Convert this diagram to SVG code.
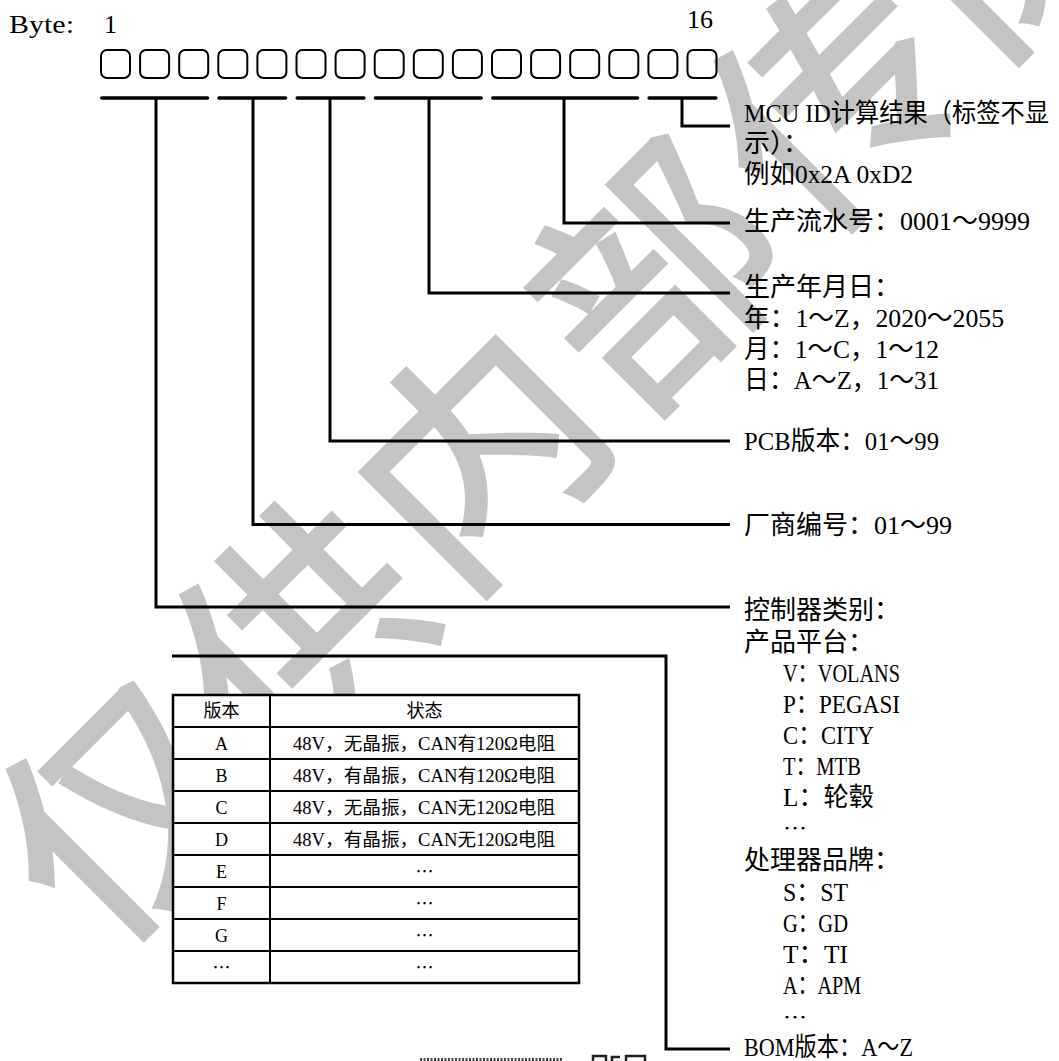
<svg xmlns="http://www.w3.org/2000/svg" width="1059" height="1061" viewBox="0 0 1059 1061">
<style>
.t{font-family:"Liberation Serif","Noto Sans CJK SC",serif;font-size:26px;fill:#000}
.tt{font-family:"Liberation Serif","Noto Sans CJK SC",serif;font-size:18px;fill:#000}
.cjk{font-family:"Noto Sans CJK SC",sans-serif}
.dots{font-family:"Noto Sans CJK SC",sans-serif;font-size:18px;fill:#000}
.box{fill:none;stroke:#000;stroke-width:2}
.seg{stroke:#000;stroke-width:3.5;stroke-linecap:round}
.conn{fill:none;stroke:#000;stroke-width:3;stroke-linejoin:miter}
.grid{stroke:#000;stroke-width:2}
.wm{font-family:"Noto Sans CJK SC",sans-serif;font-weight:500;fill:#c4c4c4}
</style>
<rect width="1059" height="1061" fill="#fff"/>
<g id="watermark">
<text class="wm" font-size="240" letter-spacing="12" text-anchor="middle" transform="translate(570 360) rotate(-45)" x="0" y="91">仅供内部传阅</text>
</g>
<g id="header">
<text class="t" x="9" y="33" textLength="65" lengthAdjust="spacingAndGlyphs">Byte:</text>
<text class="t" x="104" y="33">1</text>
<text class="t" x="687" y="28">16</text>
</g>
<g id="bytes">
<rect class="box" x="101" y="50" width="29" height="28" rx="6"/>
<rect class="box" x="140.1" y="50" width="29" height="28" rx="6"/>
<rect class="box" x="179.2" y="50" width="29" height="28" rx="6"/>
<rect class="box" x="218.3" y="50" width="29" height="28" rx="6"/>
<rect class="box" x="257.4" y="50" width="29" height="28" rx="6"/>
<rect class="box" x="296.5" y="50" width="29" height="28" rx="6"/>
<rect class="box" x="335.6" y="50" width="29" height="28" rx="6"/>
<rect class="box" x="374.7" y="50" width="29" height="28" rx="6"/>
<rect class="box" x="413.8" y="50" width="29" height="28" rx="6"/>
<rect class="box" x="452.9" y="50" width="29" height="28" rx="6"/>
<rect class="box" x="492" y="50" width="29" height="28" rx="6"/>
<rect class="box" x="531.1" y="50" width="29" height="28" rx="6"/>
<rect class="box" x="570.2" y="50" width="29" height="28" rx="6"/>
<rect class="box" x="609.3" y="50" width="29" height="28" rx="6"/>
<rect class="box" x="648.4" y="50" width="29" height="28" rx="6"/>
<rect class="box" x="687.5" y="50" width="29" height="28" rx="6"/>
</g>
<g id="connectors">
<line class="seg" x1="101.75" y1="98" x2="207.5" y2="98"/>
<line class="seg" x1="219" y1="98" x2="285.6" y2="98"/>
<line class="seg" x1="297.2" y1="98" x2="363.9" y2="98"/>
<line class="seg" x1="375.4" y1="98" x2="481.2" y2="98"/>
<line class="seg" x1="492.7" y1="98" x2="637.6" y2="98"/>
<line class="seg" x1="649.1" y1="98" x2="715.8" y2="98"/>
<path class="conn" d="M156 98V607H730"/>
<path class="conn" d="M253 98V524.5H730"/>
<path class="conn" d="M330 98V441H730"/>
<path class="conn" d="M429 98V293H730"/>
<path class="conn" d="M564 98V223H730"/>
<path class="conn" d="M682 98V126H730"/>
<path class="conn" d="M172 656H666V1049H730"/>
</g>
<g id="label-mcu">
<text class="t" x="744" y="122" font-size="24" textLength="305" lengthAdjust="spacingAndGlyphs">MCU ID计算结果（标签不显</text>
<text class="t" x="744" y="152">示）：</text>
<text class="t" x="744" y="183" textLength="169" lengthAdjust="spacingAndGlyphs">例如0x2A 0xD2</text>
</g>
<g id="label-serial">
<text class="t" x="744" y="230" textLength="286" lengthAdjust="spacingAndGlyphs">生产流水号：0001～9999</text>
</g>
<g id="label-date">
<text class="t" x="744" y="296">生产年月日：</text>
<text class="t" x="744" y="327" textLength="260" lengthAdjust="spacingAndGlyphs">年：1～Z，2020～2055</text>
<text class="t" x="744" y="358" textLength="195" lengthAdjust="spacingAndGlyphs">月：1～C，1～12</text>
<text class="t" x="744" y="389" textLength="195" lengthAdjust="spacingAndGlyphs">日：A～Z，1～31</text>
</g>
<g id="label-pcb">
<text class="t" x="744" y="450" textLength="195" lengthAdjust="spacingAndGlyphs">PCB版本：01～99</text>
</g>
<g id="label-vendor">
<text class="t" x="744" y="534" textLength="208" lengthAdjust="spacingAndGlyphs">厂商编号：01～99</text>
</g>
<g id="label-type">
<text class="t" x="744" y="619">控制器类别：</text>
<text class="t" x="744" y="651">产品平台：</text>
<text class="t" x="783" y="682" textLength="117" lengthAdjust="spacingAndGlyphs">V：VOLANS</text>
<text class="t" x="783" y="713" textLength="117" lengthAdjust="spacingAndGlyphs">P：PEGASI</text>
<text class="t" x="783" y="744" textLength="91" lengthAdjust="spacingAndGlyphs">C：CITY</text>
<text class="t" x="783" y="775" textLength="78" lengthAdjust="spacingAndGlyphs">T：MTB</text>
<text class="t" x="783" y="806" textLength="91" lengthAdjust="spacingAndGlyphs">L：轮毂</text>
<text class="dots" x="783" y="835" textLength="24" lengthAdjust="spacingAndGlyphs">…</text>
<text class="t" x="744" y="869">处理器品牌：</text>
<text class="t" x="783" y="901" textLength="65" lengthAdjust="spacingAndGlyphs">S：ST</text>
<text class="t" x="783" y="932" textLength="65" lengthAdjust="spacingAndGlyphs">G：GD</text>
<text class="t" x="783" y="963" textLength="65" lengthAdjust="spacingAndGlyphs">T：TI</text>
<text class="t" x="783" y="994" textLength="78" lengthAdjust="spacingAndGlyphs">A：APM</text>
<text class="dots" x="783" y="1024" textLength="24" lengthAdjust="spacingAndGlyphs">…</text>
</g>
<g id="label-bom">
<text class="t" x="744" y="1056" textLength="169" lengthAdjust="spacingAndGlyphs">BOM版本：A～Z</text>
</g>
<g id="bom-table">
<rect x="173" y="695" width="406" height="288" fill="#fff" stroke="#000" stroke-width="2.5"/>
<line class="grid" x1="270" y1="695" x2="270" y2="983"/>
<line class="grid" x1="173" y1="727" x2="579" y2="727"/>
<line class="grid" x1="173" y1="759" x2="579" y2="759"/>
<line class="grid" x1="173" y1="791" x2="579" y2="791"/>
<line class="grid" x1="173" y1="823" x2="579" y2="823"/>
<line class="grid" x1="173" y1="855" x2="579" y2="855"/>
<line class="grid" x1="173" y1="887" x2="579" y2="887"/>
<line class="grid" x1="173" y1="919" x2="579" y2="919"/>
<line class="grid" x1="173" y1="951" x2="579" y2="951"/>
<g text-anchor="middle">
<text class="tt" x="221.5" y="717">版本</text>
<text class="tt" x="424.5" y="717">状态</text>
<text class="tt" x="221.5" y="750">A</text>
<text class="tt" x="221.5" y="782">B</text>
<text class="tt" x="221.5" y="814">C</text>
<text class="tt" x="221.5" y="846">D</text>
<text class="tt" x="221.5" y="878">E</text>
<text class="tt" x="221.5" y="910">F</text>
<text class="tt" x="221.5" y="942">G</text>
<text class="tt cjk" x="221.5" y="974">…</text>
<text class="tt cjk" x="424.5" y="878">…</text>
<text class="tt cjk" x="424.5" y="910">…</text>
<text class="tt cjk" x="424.5" y="942">…</text>
<text class="tt cjk" x="424.5" y="974">…</text>
</g>
<text class="tt" x="293" y="750" textLength="262" lengthAdjust="spacingAndGlyphs">48V，无晶振，CAN有120Ω电阻</text>
<text class="tt" x="293" y="782" textLength="262" lengthAdjust="spacingAndGlyphs">48V，有晶振，CAN有120Ω电阻</text>
<text class="tt" x="293" y="814" textLength="262" lengthAdjust="spacingAndGlyphs">48V，无晶振，CAN无120Ω电阻</text>
<text class="tt" x="293" y="846" textLength="262" lengthAdjust="spacingAndGlyphs">48V，有晶振，CAN无120Ω电阻</text>
</g>
<g id="label-fragment">
<line x1="420" y1="1059.5" x2="562" y2="1059.5" stroke="#444" stroke-width="3" stroke-dasharray="2 1.5"/>
<path d="M593 1061V1056H606V1061M612 1061V1057H620M626 1061V1056H645V1061" fill="none" stroke="#222" stroke-width="2.5"/>
</g>
</svg>
